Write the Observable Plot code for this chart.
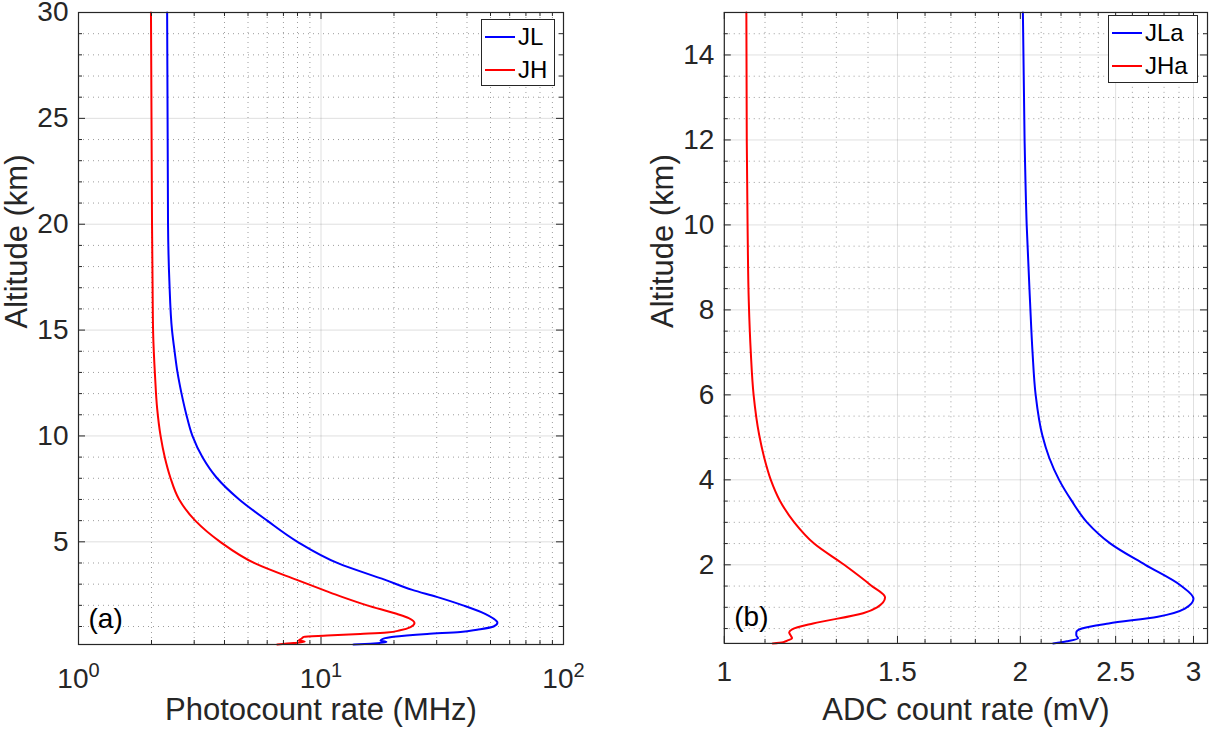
<!DOCTYPE html>
<html>
<head>
<meta charset="utf-8">
<script src="https://cdn.jsdelivr.net/npm/d3@7"></script>
<script src="https://cdn.jsdelivr.net/npm/@observablehq/plot@0.6"></script>
<style>
  body { margin: 0; background: #fff; }
  #wrap { position: relative; width: 1209px; height: 729px; overflow: hidden; font-family: "Liberation Sans", Arial, sans-serif; }
  #graph1, #graph2 { position: absolute; top: 0; }
  #graph1 { left: 0; }
  #graph2 { left: 609px; }
  .legend { position: absolute; border: 1px solid #262626; background: #fff; font-size: 24px; color: #000; box-sizing: border-box; }
  .legend .row { position: absolute; left: 3px; height: 28px; display: flex; align-items: center; }
  .legend .sw { width: 30px; height: 0; border-top: 2px solid; margin-right: 3px; }
</style>
</head>
<body>
<div id="wrap">
  <div id="graph1"></div>
  <div id="graph2"></div>
  <div class="legend" style="left:481px;top:19px;width:74px;height:67px">
    <div class="row" style="top:3px"><span class="sw" style="border-color:#0000ff"></span>JL</div>
    <div class="row" style="top:36px"><span class="sw" style="border-color:#ff0000"></span>JH</div>
  </div>
  <div class="legend" style="left:1108px;top:15px;width:90px;height:68px">
    <div class="row" style="top:3px"><span class="sw" style="border-color:#0000ff"></span>JLa</div>
    <div class="row" style="top:36px"><span class="sw" style="border-color:#ff0000"></span>JHa</div>
  </div>
</div>
<script>
// panel (a): photon counting, altitude in km, rate in MHz
const jlAlt  = [0.15, 0.19, 0.27, 0.33, 0.43, 0.52, 0.65, 0.74, 0.85, 1.0, 1.18, 1.4, 1.6, 2.0, 2.4, 2.73, 3.2, 3.98, 5.0, 6.0, 7.0, 8.05, 8.98, 10.0, 11.04, 12.0, 13.0, 14.0, 15.0, 17.3, 20, 25, 30];
const jlRate = [13.6, 16.0, 18.6, 17.6, 18.1, 19.9, 27.4, 37.6, 44.0, 51.5, 53.4, 51.0, 47.5, 38.5, 30.0, 23.8, 18.4, 11.8, 8.0, 6.0, 4.6, 3.7, 3.25, 2.95, 2.78, 2.66, 2.56, 2.49, 2.43, 2.37, 2.34, 2.33, 2.32];
const jhAlt  = [0.15, 0.22, 0.28, 0.34, 0.42, 0.51, 0.57, 0.65, 0.72, 0.82, 0.97, 1.16, 1.4, 1.6, 2.0, 2.4, 2.73, 3.2, 3.98, 5.0, 6.0, 7.0, 8.05, 8.98, 10.0, 11.3, 12.76, 15.0, 17.3, 20, 25, 30];
const jhRate = [6.6, 7.7, 8.56, 8.1, 8.3, 8.5, 10.6, 14.5, 18.7, 21.2, 23.4, 24.3, 23.0, 20.5, 15.5, 12.2, 10.2, 7.95, 5.35, 3.84, 3.03, 2.6, 2.39, 2.27, 2.18, 2.11, 2.07, 2.03, 2.02, 2.01, 2.0, 1.99];

// panel (b): analog, ADC rate in mV
const jlaAlt  = [0.15, 0.2, 0.27, 0.34, 0.41, 0.5, 0.62, 0.78, 0.97, 1.2, 1.52, 2.0, 2.5, 3.0, 3.51, 4.0, 4.52, 5.06, 6.0, 7.0, 8.19, 10, 12, 15];
const jlaRate = [2.16, 2.23, 2.29, 2.28, 2.28, 2.31, 2.46, 2.76, 2.94, 3.0, 2.909, 2.68, 2.47, 2.338, 2.255, 2.19, 2.14, 2.105, 2.073, 2.058, 2.046, 2.03, 2.02, 2.012];
const jhaAlt  = [0.15, 0.18, 0.22, 0.27, 0.34, 0.41, 0.48, 0.62, 0.86, 1.0, 1.23, 1.52, 2.0, 2.5, 3.0, 3.51, 4.0, 4.52, 5.06, 6.0, 7.0, 8.19, 10, 12, 15];
const jhaRate = [1.12, 1.148, 1.16, 1.172, 1.168, 1.164, 1.172, 1.231, 1.384, 1.43, 1.457, 1.409, 1.324, 1.234, 1.178, 1.139, 1.115, 1.098, 1.085, 1.071, 1.064, 1.059, 1.056, 1.054, 1.053];

// ticks
const aXMajor = [1, 10, 100];
const aXMinor = [2, 3, 4, 5, 6, 7, 8, 9, 20, 30, 40, 50, 60, 70, 80, 90];
const aYMajor = [5, 10, 15, 20, 25, 30];
const aYMinor = d3.range(1, 30).filter(d => d % 5 !== 0);
const bXMajor = [1, 1.5, 2, 2.5, 3];
const bXMinor = [1.1, 1.2, 1.3, 1.4, 1.6, 1.7, 1.8, 1.9, 2.1, 2.2, 2.3, 2.4, 2.6, 2.7, 2.8, 2.9];
const bYMajor = [2, 4, 6, 8, 10, 12, 14];
const bYMinor = d3.range(1, 30).map(d => d / 2).filter(d => d % 2 !== 0);

const ink = "#262626";
const mTop = 12, mBottom = 85;
const H = 729 - mTop - mBottom;

const rows = (alt, val) => alt.map((a, i) => ({alt: a, v: val[i]}));

function panel({width, marginLeft, marginRight, xDomain, yDomain, xMajor, xMinor, yMajor, yMinor, xFormat, xPad, xLabel, xLabelDy, tag, series}) {
  const W = width - marginLeft - marginRight;
  return Plot.plot({
    width, height: 729,
    marginLeft, marginRight, marginTop: mTop, marginBottom: mBottom,
    x: {type: "log", domain: xDomain},
    y: {domain: yDomain},
    style: {fontFamily: "Liberation Sans, Arial, sans-serif", fontSize: "28px", color: ink, background: "white", overflow: "visible"},
    marks: [
      Plot.ruleX(xMinor, {x: d => d, stroke: ink, strokeOpacity: 0.45, strokeDasharray: "1,4"}),
      Plot.ruleY(yMinor, {y: d => d, stroke: ink, strokeOpacity: 0.45, strokeDasharray: "1,4"}),
      Plot.ruleX(xMajor, {x: d => d, stroke: ink, strokeOpacity: 0.15}),
      Plot.ruleY(yMajor, {y: d => d, stroke: ink, strokeOpacity: 0.15}),
      ...series.map(s => Plot.line(s.data, {x: "v", y: "alt", stroke: s.color, strokeWidth: 2, curve: "monotone-y"})),
      Plot.tickX(xMajor, {x: d => d, insetTop: H - 7, stroke: ink}),
      Plot.tickX(xMajor, {x: d => d, insetBottom: H - 7, stroke: ink}),
      Plot.tickX(xMinor, {x: d => d, insetTop: H - 4, stroke: ink}),
      Plot.tickX(xMinor, {x: d => d, insetBottom: H - 4, stroke: ink}),
      Plot.tickY(yMajor, {y: d => d, insetRight: W - 7, stroke: ink}),
      Plot.tickY(yMajor, {y: d => d, insetLeft: W - 7, stroke: ink}),
      Plot.tickY(yMinor, {y: d => d, insetRight: W - 4, stroke: ink}),
      Plot.tickY(yMinor, {y: d => d, insetLeft: W - 4, stroke: ink}),
      Plot.frame({stroke: ink, strokeWidth: 1.2}),
      Plot.axisX({ticks: xMajor, tickSize: 0, tickPadding: xPad, tickFormat: xFormat, label: null, fill: ink}),
      Plot.axisY({ticks: yMajor, tickSize: 0, tickPadding: 10, tickFormat: d => String(d), label: null, fill: ink}),
      Plot.text([xLabel], {frameAnchor: "bottom", dy: xLabelDy, lineAnchor: "bottom", fontSize: 31, fill: ink}),
      Plot.text(["Altitude (km)"], {frameAnchor: "left", dx: -61, rotate: -90, lineAnchor: "middle", fontSize: 31, fill: ink}),
      Plot.text([tag], {frameAnchor: "bottom-left", dx: 10, dy: -17, textAnchor: "start", lineAnchor: "bottom", fontSize: 28, fill: "#000"})
    ]
  });
}

const plotA = panel({
  width: 600, marginLeft: 78, marginRight: 37,
  xDomain: [1, 100], yDomain: [0.15, 30],
  xMajor: aXMajor, xMinor: aXMinor, yMajor: aYMajor, yMinor: aYMinor,
  xFormat: d => "10^" + Math.round(Math.log10(d)), xPad: 24,
  xLabel: "Photocount rate (MHz)", xLabelDy: 75, tag: "(a)",
  series: [
    {data: rows(jlAlt, jlRate), color: "#0000ff"},
    {data: rows(jhAlt, jhRate), color: "#ff0000"}
  ]
});

const plotB = panel({
  width: 601, marginLeft: 115, marginRight: 2,
  xDomain: [1, 3.1], yDomain: [0.15, 15],
  xMajor: bXMajor, xMinor: bXMinor, yMajor: bYMajor, yMinor: bYMinor,
  xFormat: d => String(d), xPad: 18,
  xLabel: "ADC count rate (mV)", xLabelDy: 77, tag: "(b)",
  series: [
    {data: rows(jlaAlt, jlaRate), color: "#0000ff"},
    {data: rows(jhaAlt, jhaRate), color: "#ff0000"}
  ]
});

// powers of ten as superscripts
d3.select(plotA).selectAll('g[aria-label="x-axis tick label"] text').each(function () {
  const [base, exp] = this.textContent.split("^");
  const t = d3.select(this);
  t.text(null);
  t.append("tspan").text(base);
  t.append("tspan").attr("dy", "-0.55em").attr("font-size", "20px").text(exp);
});

document.querySelector("#graph1").append(plotA);
document.querySelector("#graph2").append(plotB);
</script>
</body>
</html>
